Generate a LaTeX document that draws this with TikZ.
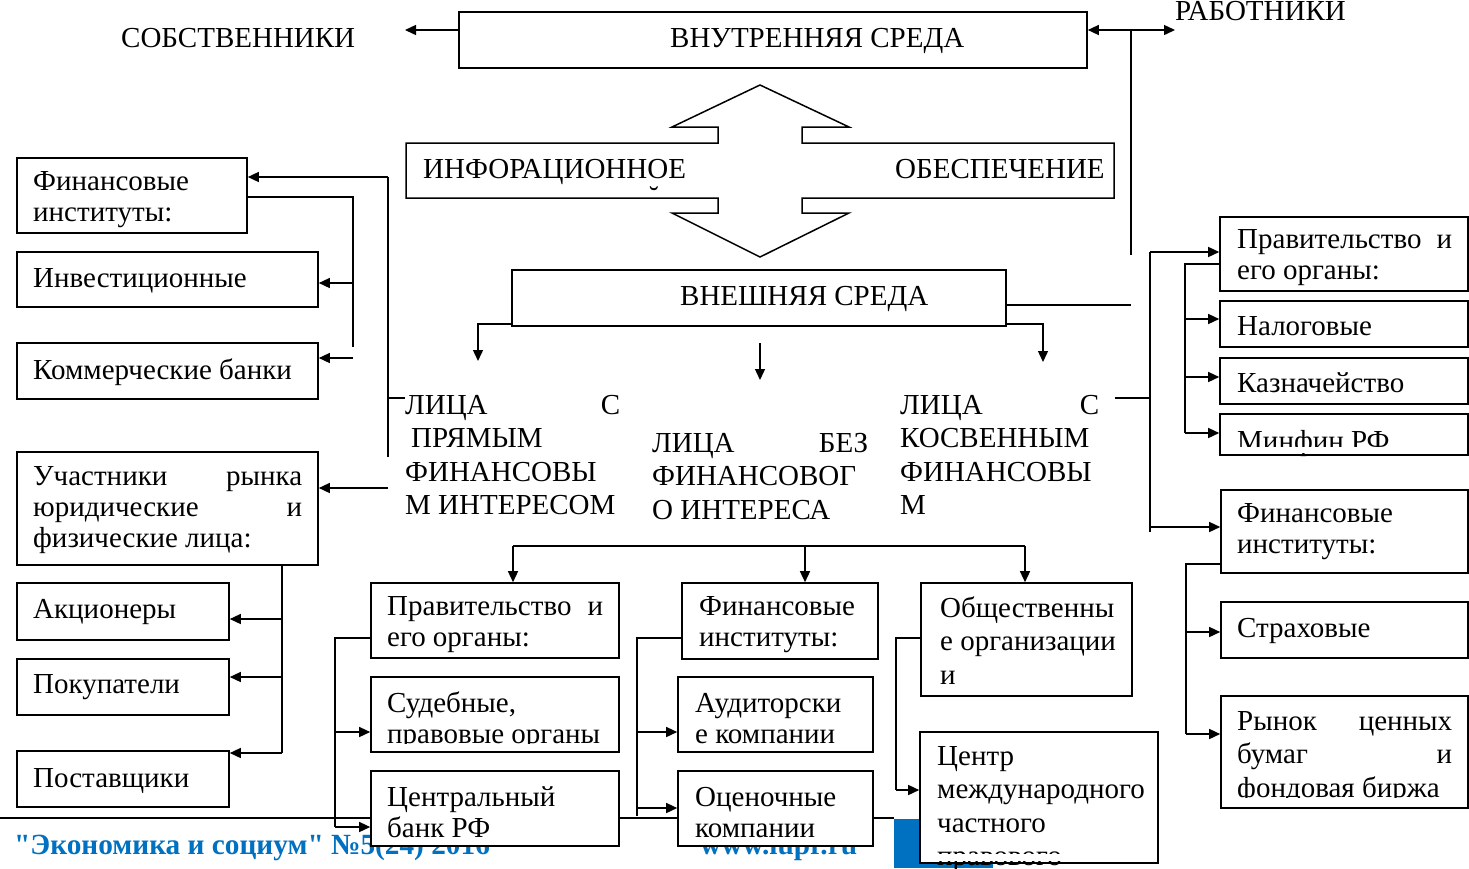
\documentclass[tikz,border=0pt]{standalone}
\usepackage{fontspec}
\setmainfont{Liberation Serif}
\usetikzlibrary{arrows.meta}
\definecolor{footblue}{RGB}{0,112,192}
\tikzset{
	box/.style={draw, fill=white, line width=1.6pt, inner sep=0pt},
	conn/.style={line width=1.4pt},
	arr/.style={line width=1.4pt, -{Triangle[length=11pt,width=10pt]}},
	lbl/.style={anchor=base west, inner sep=0pt, font=\fontsize{29}{31}\selectfont},
	lblw/.style={lbl, font=\fontsize{29}{33.5}\selectfont},
	foot/.style={anchor=base west, inner sep=0pt, text=footblue, font=\bfseries\fontsize{29.3}{34}\selectfont},
}
\def\boxnode(#1)(#2,#3)(#4,#5){\node[box, minimum width={(#4-#2)*1pt}, minimum height={(#5-#3)*1pt}] (#1) at ({(#2+#4)/2},{(#3+#5)/2}) {};}
\def\mask(#1)(#2){\fill[white] (#1) rectangle (#2);}

\begin{document}
\begin{tikzpicture}[x=1pt, y=-1pt]
			%%%%% START %%%%%
			\useasboundingbox (0,0) rectangle (1469,868);
			
			\draw[line width=1.5pt] (0,818) -- (894,818);
			\fill[footblue] (894,819) rectangle (993,868);
			\node[foot] (tFoot1) at (14,854) {\textquotedbl Экономика и социум\textquotedbl{} №5(24) 2016};
			\node[foot] (tFoot2) at (700,854) {www.iupr.ru};
			
			\boxnode(vnutr)(459,12)(1087,68)
			\boxnode(vnesh)(512,270)(1006,326)
			
			\draw[line width=1.5pt, fill=white] (406,143) -- (718,143) -- (718,127) -- (672,127) -- (760,85) -- (849,127) -- (802,127) -- (802,143) -- (1114,143) -- (1114,198) -- (802,198) -- (802,213) -- (849,213) -- (760,257) -- (672,213) -- (718,213) -- (718,198) -- (406,198) -- cycle;
			
			\boxnode(finL)(17,158)(247,233)
			\boxnode(invL)(17,252)(318,307)
			\boxnode(komL)(17,343)(318,399)
			\boxnode(uchL)(17,452)(318,565)
			\boxnode(akcL)(17,583)(229,640)
			\boxnode(pokL)(17,659)(229,715)
			\boxnode(posL)(17,751)(229,807)
			
			\boxnode(pravM)(371,583)(619,658)
			\boxnode(sudM)(371,677)(619,752)
			\boxnode(cbM)(371,771)(619,846)
			\boxnode(finM)(682,583)(878,659)
			\boxnode(audM)(678,677)(873,752)
			\boxnode(ocenM)(678,771)(873,846)
			\boxnode(obshM)(921,583)(1132,696)
			\boxnode(centrM)(920,732)(1158,863)
			
			\boxnode(pravR)(1220,217)(1468,291)
			\boxnode(nalR)(1220,301)(1468,347)
			\boxnode(kazR)(1220,358)(1468,404)
			\boxnode(minR)(1220,414)(1468,455)
			\boxnode(finR)(1221,490)(1468,573)
			\boxnode(strR)(1221,602)(1468,658)
			\boxnode(rynR)(1221,696)(1468,808)
			
			\node[lbl] (tSob) at (121,47) {СОБСТВЕННИКИ};
			\node[lbl] (tVnutr) at (670,47) {ВНУТРЕННЯЯ СРЕДА};
			\node[lbl] (tRab) at (1175,20) {РАБОТНИКИ};
			\node[lbl] (tInfo1) at (423,178) {ИНФОРАЦИОННОЕ};
			\node[lbl] (tInfo2) at (895,178) {ОБЕСПЕЧЕНИЕ};
			\node[anchor=north, inner sep=0pt, font=\fontsize{29}{31}\selectfont] (tBreve) at (654,186) {˘};
			\node[lbl] (tVnesh) at (680,305) {ВНЕШНЯЯ СРЕДА};
			
			\node[lblw] (tPr) at (405,414) {\parbox[t]{300pt}{\makebox[215pt][s]{ЛИЦА С}\\\hspace*{6pt}ПРЯМЫМ\\ФИНАНСОВЫ\\М ИНТЕРЕСОМ}};
			\node[lblw] (tBez) at (652,452) {\parbox[t]{300pt}{\makebox[216pt][s]{ЛИЦА БЕЗ}\\ФИНАНСОВОГ\\О ИНТЕРЕСА}};
			\node[lblw] (tKosv) at (900,414) {\parbox[t]{300pt}{\makebox[199pt][s]{ЛИЦА С}\\КОСВЕННЫМ\\ФИНАНСОВЫ\\М}};
			
			\node[lbl] (tFinL) at (33,190) {\parbox[t]{210pt}{Финансовые\\институты:}};
			\node[lbl] (tInvL) at (33,287) {Инвестиционные};
			\node[lbl] (tKomL) at (33,379) {Коммерческие банки};
			\node[lbl] (tUchL) at (33,485) {\parbox[t]{290pt}{\makebox[269pt][s]{Участники рынка}\\\makebox[269pt][s]{юридические и}\\физические лица:}};
			\node[lbl] (tAkcL) at (33,618) {Акционеры};
			\node[lbl] (tPokL) at (33,693) {Покупатели};
			\node[lbl] (tPosL) at (33,787) {Поставщики};
			
			\node[lbl] (tPravM) at (387,615) {\parbox[t]{230pt}{\makebox[216pt][s]{Правительство и}\\его органы:}};
			\node[lbl] (tSudM) at (387,712) {\parbox[t]{230pt}{Судебные,\\правовые органы}};
			\node[lbl] (tCbM) at (387,806) {\parbox[t]{230pt}{Центральный\\банк РФ}};
			\node[lbl] (tFinM) at (699,615) {\parbox[t]{180pt}{Финансовые\\институты:}};
			\node[lbl] (tAudM) at (695,712) {\parbox[t]{180pt}{Аудиторски\\е компании}};
			\node[lbl] (tOcenM) at (695,806) {\parbox[t]{180pt}{Оценочные\\компании}};
			\node[lblw] (tObshM) at (940,617) {\parbox[t]{200pt}{Общественны\\е организации\\и}};
			\node[lblw] (tCentrM) at (937,765) {\parbox[t]{220pt}{Центр\\международного\\частного\\правового}};
			
			\node[lbl] (tPravR) at (1237,248) {\parbox[t]{230pt}{\makebox[215pt][s]{Правительство и}\\его органы:}};
			\node[lbl] (tNalR) at (1237,335) {Налоговые};
			\node[lbl] (tKazR) at (1237,392) {Казначейство};
			\node[lbl] (tMinR) at (1237,450) {Минфин РФ};
			\node[lbl] (tFinR) at (1237,522) {\parbox[t]{230pt}{Финансовые\\институты:}};
			\node[lbl] (tStrR) at (1237,637) {Страховые};
			\node[lblw] (tRynR) at (1237,730) {\parbox[t]{230pt}{\makebox[215pt][s]{Рынок ценных}\\\makebox[215pt][s]{бумаг и}\\фондовая биржа}};
			
			\mask(373,744)(617,750)
			\mask(373,839)(617,844)
			\mask(680,745)(871,750)
			\mask(680,839)(871,844)
			\mask(922,854)(1156,861)
			\mask(1222,447)(1466,453)
			\mask(1223,798)(1466,806)
			
			\coordinate (cSob) at (405,30);
			\draw[arr] (cSob -| vnutr.west) -- (cSob);
			\coordinate (jR) at (1131,30);
			\draw[arr] (jR) -- (jR -| vnutr.east);
			\draw[arr] (jR) -- (jR -| tRab.west);
			\draw[conn] (jR) -- (1131,255);
			\coordinate (jV) at (1131,305);
			\draw[conn] (jV -| vnesh.east) -- (jV);
			
			\coordinate (sA) at (388,177);
			\draw[conn] (sA) -- (388,457);
			\draw[arr] (sA) -- (sA -| finL.east);
			\coordinate (sAu) at (388,488);
			\draw[arr] (sAu) -- (sAu -| uchL.east);
			\coordinate (sAp) at (388,398);
			\draw[conn] (sAp) -- (sAp -| tPr.west);
			\coordinate (sB) at (353,197);
			\draw[conn] (sB -| finL.east) -- (sB) -- (353,347);
			\coordinate (sBi) at (353,283);
			\draw[arr] (sBi) -- (sBi -| invL.east);
			\coordinate (sBk) at (353,358);
			\draw[arr] (sBk) -- (sBk -| komL.east);
			\coordinate (sC) at (282,753);
			\draw[conn] (uchL.south -| sC) -- (sC);
			\foreach \y/\n in {619/akcL,677/pokL,753/posL}
				\draw[arr] (282,\y) -- (\n.east |- 282,\y);
			
			\coordinate (vL) at (478,324);
			\draw[arr] (vL -| vnesh.west) -- (vL) -- (478,361);
			\coordinate (vM) at (760,343);
			\coordinate (vMe) at (760,380);
			\draw[arr] (vM) -- (vMe);
			\coordinate (vR) at (1043,324);
			\draw[arr] (vR -| vnesh.east) -- (vR) -- (1043,362);
			
			\coordinate (tr1) at (513,546);
			\coordinate (tr2) at (805,546);
			\coordinate (tr3) at (1025,546);
			\draw[conn] (tr1) -- (tr3);
			\draw[arr] (tr1) -- (tr1 |- pravM.north);
			\draw[arr] (tr2) -- (tr2 |- finM.north);
			\draw[arr] (tr3) -- (tr3 |- obshM.north);
			
			\coordinate (sD) at (335,638);
			\draw[conn] (sD -| pravM.west) -- (sD) -- (335,827);
			\foreach \y/\n in {732/sudM,827/cbM}
				\draw[arr] (335,\y) -- (\n.west |- 335,\y);
			\coordinate (sE) at (637,638);
			\draw[conn] (sE -| finM.west) -- (sE) -- (637,816);
			\foreach \y/\n in {732/audM,808/ocenM}
				\draw[arr] (637,\y) -- (\n.west |- 637,\y);
			\coordinate (sF) at (896,638);
			\draw[conn] (sF -| obshM.west) -- (sF) -- (896,790);
			\draw[arr] (896,790) -- (centrM.west |- 896,790);
			
			\coordinate (sR) at (1150,252);
			\draw[conn] (sR) -- (1150,532);
			\draw[arr] (sR) -- (sR -| pravR.west);
			\coordinate (sRf) at (1150,527);
			\draw[arr] (sRf) -- (sRf -| finR.west);
			\coordinate (sRk) at (1150,398);
			\draw[conn] (sRk) -- (1115,398);
			\coordinate (sG) at (1185,264);
			\draw[conn] (sG -| pravR.west) -- (sG) -- (1185,433);
			\foreach \y/\n in {319/nalR,377/kazR,433/minR}
				\draw[arr] (1185,\y) -- (\n.west |- 1185,\y);
			\coordinate (sH) at (1186,564);
			\draw[conn] (sH -| finR.west) -- (sH) -- (1186,734);
			\foreach \y/\n in {632/strR,734/rynR}
				\draw[arr] (1186,\y) -- (\n.west |- 1186,\y);
			
			%%%%% END %%%%%
\end{tikzpicture}
\end{document}
